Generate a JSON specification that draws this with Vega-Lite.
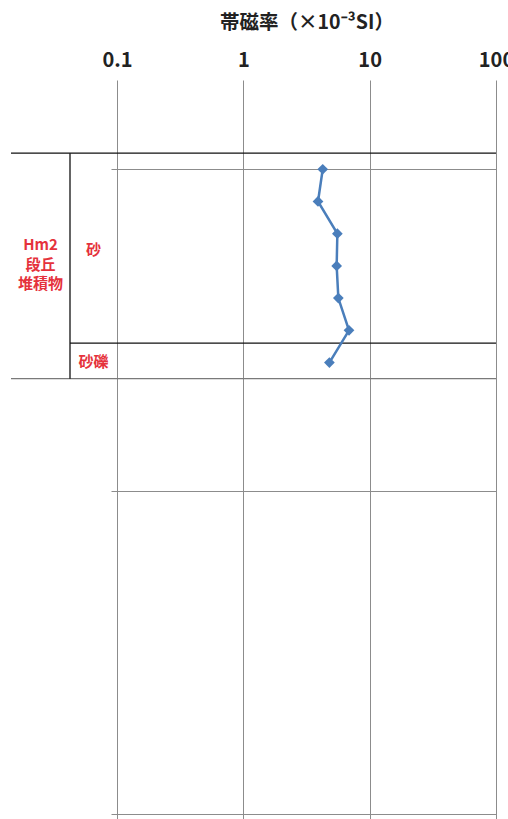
{
  "$schema": "https://vega.github.io/schema/vega-lite/v6.json",
  "padding": {"left": 10, "top": 12, "right": 0, "bottom": 0},
  "spacing": 0,
  "bounds": "flush",
  "config": {"view": {"stroke": null}, "font": "Noto Sans CJK JP"},
  "datasets": {
    "mag": [
      {"depth": 0.0, "chi": 4.25},
      {"depth": 0.1, "chi": 3.9},
      {"depth": 0.2, "chi": 5.55},
      {"depth": 0.3, "chi": 5.48},
      {"depth": 0.4, "chi": 5.65},
      {"depth": 0.5, "chi": 6.86},
      {"depth": 0.6, "chi": 4.8}
    ],
    "bounds": [
      {"depth": -0.05, "kind": "top"},
      {"depth": 0.54, "kind": "mid"},
      {"depth": 0.65, "kind": "base"}
    ],
    "formation": [{"label": "Hm2 段丘 堆積物", "top": -0.05, "base": 0.65, "mid": 0.297}],
    "lithology": [
      {"label": "砂", "top": -0.05, "base": 0.54, "mid": 0.251},
      {"label": "砂礫", "top": 0.54, "base": 0.65, "mid": 0.598}
    ]
  },
  "hconcat": [
    {
      "width": 59,
      "height": 740,
      "layer": [
        {
          "data": {"name": "bounds"},
          "transform": [{"filter": "datum.kind != 'mid'"}],
          "mark": {"type": "rule", "strokeWidth": 1.3},
          "encoding": {
            "y": {"field": "depth", "type": "quantitative", "scale": {"domain": [-0.277, 2.02], "nice": false, "zero": false, "reverse": true}, "axis": null},
            "color": {"field": "kind", "type": "nominal", "scale": {"domain": ["top", "mid", "base"], "range": ["#111111", "#111111", "#7a7a7a"]}, "legend": null}
          }
        },
        {
          "data": {"name": "formation"},
          "mark": {"type": "text", "lineBreak": " ", "lineHeight": 19.5, "dy": -19.5, "color": "#e5323c", "fontWeight": "bold", "fontSize": 15},
          "encoding": {
            "y": {"field": "mid", "type": "quantitative"},
            "text": {"field": "label"}
          }
        }
      ]
    },
    {
      "width": 47,
      "height": 740,
      "layer": [
        {
          "data": {"name": "bounds"},
          "mark": {"type": "rule", "strokeWidth": 1.3},
          "encoding": {
            "y": {"field": "depth", "type": "quantitative", "scale": {"domain": [-0.277, 2.02], "nice": false, "zero": false, "reverse": true}, "axis": null},
            "color": {"field": "kind", "type": "nominal", "scale": {"domain": ["top", "mid", "base"], "range": ["#111111", "#111111", "#7a7a7a"]}, "legend": null}
          }
        },
        {
          "data": {"name": "formation"},
          "mark": {"type": "rule", "strokeWidth": 1.3, "color": "#111111"},
          "encoding": {
            "x": {"datum": 0, "type": "quantitative", "scale": {"domain": [0, 1], "nice": false}, "axis": null},
            "y": {"field": "top", "type": "quantitative"},
            "y2": {"field": "base"}
          }
        },
        {
          "data": {"name": "lithology"},
          "mark": {"type": "text", "color": "#e5323c", "fontWeight": "bold", "fontSize": 15},
          "encoding": {
            "x": {"datum": 0.5, "type": "quantitative"},
            "y": {"field": "mid", "type": "quantitative"},
            "text": {"field": "label"}
          }
        }
      ]
    },
    {
      "width": 379,
      "height": 740,
      "layer": [
        {
          "data": {"name": "bounds"},
          "mark": {"type": "rule", "strokeWidth": 1.3},
          "encoding": {
            "y": {
              "field": "depth", "type": "quantitative",
              "scale": {"domain": [-0.277, 2.02], "nice": false, "zero": false, "reverse": true},
              "axis": {"orient": "left", "values": [0, 1, 2], "labels": false, "domain": false, "ticks": true, "tickSize": 6, "tickColor": "#8c8c8c", "grid": true, "gridColor": "#8c8c8c", "gridOpacity": 1, "title": null}
            },
            "color": {"field": "kind", "type": "nominal", "scale": {"domain": ["top", "mid", "base"], "range": ["#111111", "#111111", "#7a7a7a"]}, "legend": null}
          }
        },
        {
          "data": {"name": "mag"},
          "mark": {"type": "line", "color": "#4a7ebb", "strokeWidth": 2.5, "point": {"shape": "diamond", "size": 115, "filled": true, "color": "#4a7ebb", "opacity": 1}},
          "encoding": {
            "x": {
              "field": "chi", "type": "quantitative",
              "scale": {"type": "log", "domain": [0.1, 100], "nice": false},
              "axis": {"orient": "top", "values": [0.1, 1, 10, 100], "format": "~g", "labelFlush": false, "labelOverlap": false, "grid": true, "gridColor": "#8c8c8c", "gridOpacity": 1, "domain": false, "ticks": false, "labelFontSize": 20, "labelFontWeight": "bold", "labelColor": "#222222", "labelPadding": 10, "title": "帯磁率（×10⁻³SI）", "titleFontSize": 19.5, "titleFontWeight": "bold", "titleColor": "#222222", "titlePadding": 18}
            },
            "y": {"field": "depth", "type": "quantitative", "sort": null},
            "order": {"field": "depth"}
          }
        }
      ]
    }
  ]
}
